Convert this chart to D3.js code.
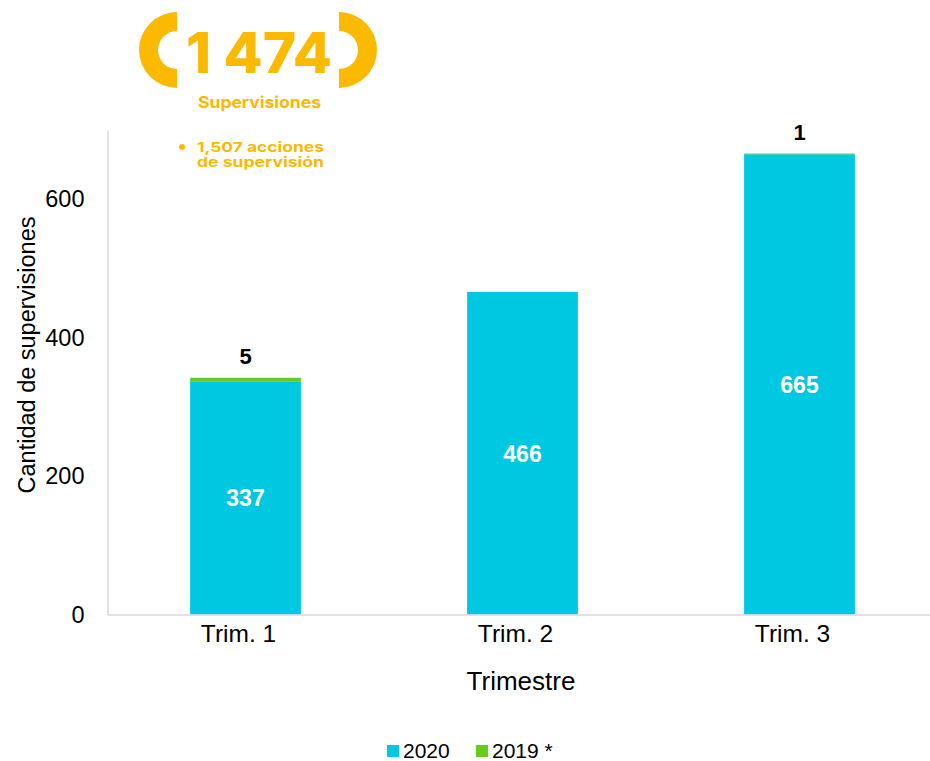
<!DOCTYPE html>
<html>
<head>
<meta charset="utf-8">
<script src="https://cdn.jsdelivr.net/npm/d3@7"></script>
<style>
  body { margin: 0; background: #fff; }
  svg { display: block; font-family: "Liberation Sans", Arial, sans-serif; }
</style>
</head>
<body>
<div id="chart"></div>
<script>
// Data
const categories = ["Trim. 1", "Trim. 2", "Trim. 3"];
const values2020 = [337, 466, 665];
const values2019 = [5, 0, 1];
const seriesNames = ["2020", "2019 *"];
const yTicks = [0, 200, 400, 600];
const badgeTotal = "1 474";
const badgeLabel = "Supervisiones";
const badgeNote = ["1,507 acciones", "de supervisión"];

const W = 930, H = 761;
const colors = { "2020": "#00C8E1", "2019 *": "#66CC1F" };
const gold = "#FBB900";

const svg = d3.select("#chart").append("svg")
    .attr("width", W)
    .attr("height", H);

// Scales
const x = d3.scaleBand()
    .domain(categories)
    .range([107, 938])
    .paddingInner(0.6)
    .paddingOuter(0.3);

const y = d3.scaleLinear()
    .domain([0, 700])
    .range([614.5, 130]);

// Stack the two series
const rows = categories.map((c, i) => ({ cat: c, "2020": values2020[i], "2019 *": values2019[i] }));
const stacked = d3.stack().keys(seriesNames)(rows);

// Bars
svg.append("g").selectAll("g")
    .data(stacked)
    .join("g")
    .attr("fill", d => colors[d.key])
    .selectAll("rect")
    .data(d => d)
    .join("rect")
    .attr("x", d => x(d.data.cat))
    .attr("width", x.bandwidth())
    .attr("y", d => y(d[1]))
    .attr("height", d => y(d[0]) - y(d[1]));

// Axes
const yAxis = svg.append("g")
    .attr("transform", "translate(107.5,0)")
    .call(d3.axisLeft(y).tickValues(yTicks).tickSize(0).tickPadding(23));
yAxis.select(".domain").attr("stroke", "#d9d9d9").attr("stroke-width", 1.5);
yAxis.selectAll("text").attr("font-size", 23.5).attr("fill", "#000")
    .attr("font-family", "Liberation Sans, Arial, sans-serif");

const xAxis = svg.append("g")
    .attr("transform", "translate(0,614.5)")
    .call(d3.axisBottom(x).tickSize(0).tickPadding(10));
xAxis.select(".domain").attr("stroke", "#d9d9d9").attr("stroke-width", 1.5);
xAxis.selectAll("text").attr("font-size", 24.5).attr("fill", "#000")
    .attr("dx", -7)
    .attr("font-family", "Liberation Sans, Arial, sans-serif");

// Axis titles
svg.append("text")
    .attr("x", 521).attr("y", 690)
    .attr("text-anchor", "middle")
    .attr("font-size", 26)
    .text("Trimestre");

svg.append("text")
    .attr("transform", "translate(35,355) rotate(-90)")
    .attr("text-anchor", "middle")
    .attr("font-size", 23.5)
    .text("Cantidad de supervisiones");

// Value labels: 2020 in the middle of bar, 2019 above the bar
svg.append("g").selectAll("text")
    .data(categories)
    .join("text")
    .attr("x", d => x(d) + x.bandwidth() / 2)
    .attr("y", (d, i) => y(values2020[i] / 2) + 8.3)
    .attr("text-anchor", "middle")
    .attr("font-size", 23)
    .attr("font-weight", "bold")
    .attr("fill", "#fff")
    .text((d, i) => values2020[i]);

svg.append("g").selectAll("text")
    .data(categories.filter((c, i) => values2019[i] > 0))
    .join("text")
    .attr("x", d => x(d) + x.bandwidth() / 2)
    .attr("y", d => {
        const i = categories.indexOf(d);
        return y(values2020[i] + values2019[i]) - 14;
    })
    .attr("text-anchor", "middle")
    .attr("font-size", 22)
    .attr("font-weight", "bold")
    .attr("fill", "#000")
    .text(d => values2019[categories.indexOf(d)]);

// Legend
const legend = svg.append("g").attr("transform", "translate(387,745)");
const legendX = [0, 89];
seriesNames.forEach((s, i) => {
    const g = legend.append("g").attr("transform", `translate(${legendX[i]},0)`);
    g.append("rect").attr("width", 12).attr("height", 12).attr("fill", colors[s]);
    g.append("text").attr("x", 16).attr("y", 12.5).attr("font-size", 21).text(s);
});

// Badge at top-left
const badge = svg.append("g").attr("fill", gold);
const bracket = d3.arc().innerRadius(19).outerRadius(38);
badge.append("path")
    .attr("transform", "translate(177,50)")
    .attr("d", bracket({ startAngle: Math.PI, endAngle: 2 * Math.PI }));
badge.append("path")
    .attr("transform", "translate(339,50)")
    .attr("d", bracket({ startAngle: 0, endAngle: Math.PI }));

badge.append("text")
    .attr("x", 186).attr("y", 73)
    .attr("font-family", "Inter, 'Noto Sans', sans-serif")
    .attr("font-weight", 800)
    .attr("font-size", 57)
    .attr("textLength", 146)
    .attr("lengthAdjust", "spacingAndGlyphs")
    .text(badgeTotal);

badge.append("text")
    .attr("x", 198).attr("y", 108)
    .attr("font-family", "Inter, 'Noto Sans', sans-serif")
    .attr("font-weight", 700)
    .attr("font-size", 16)
    .attr("textLength", 123)
    .attr("lengthAdjust", "spacingAndGlyphs")
    .text(badgeLabel);

badge.append("circle").attr("cx", 182).attr("cy", 147).attr("r", 3);
badgeNote.forEach((t, i) => {
    badge.append("text")
        .attr("x", 197).attr("y", 151.5 + i * 15.5)
        .attr("font-family", "Inter, 'Noto Sans', sans-serif")
        .attr("font-weight", 700)
        .attr("font-size", 13.5)
        .attr("textLength", 127)
        .attr("lengthAdjust", "spacingAndGlyphs")
        .text(t);
});
</script>
</body>
</html>
